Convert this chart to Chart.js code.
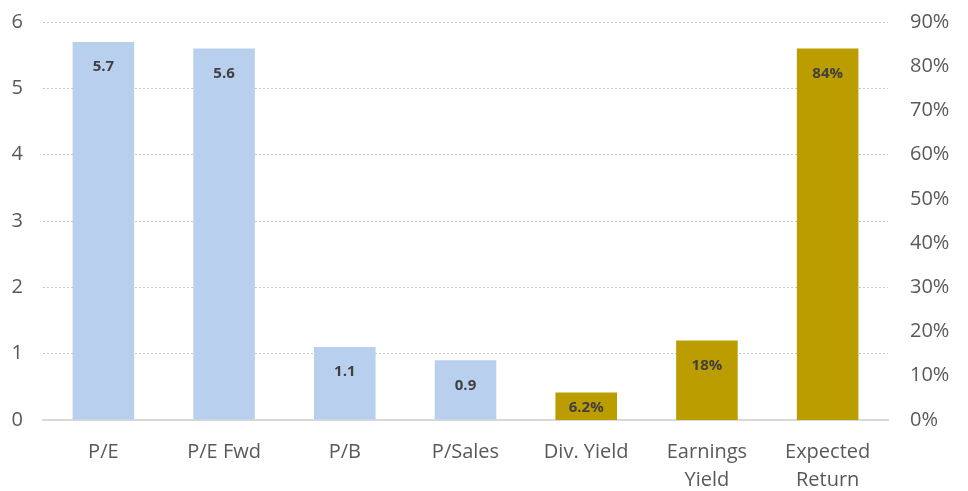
<!DOCTYPE html>
<html>
<head>
<meta charset="utf-8">
<script src="https://cdn.jsdelivr.net/npm/chart.js@4/dist/chart.umd.min.js"></script>
<style>
  html, body { margin: 0; padding: 0; background: #fff; }
  #wrap { width: 968px; height: 491px; }
</style>
</head>
<body>
<div id="wrap"><canvas id="valuation-chart"></canvas></div>
<script>
// categories and values
const categories = ['P/E', 'P/E Fwd', 'P/B', 'P/Sales', 'Div. Yield', ['Earnings', 'Yield'], ['Expected', 'Return']];
const ratioValues = [5.7, 5.6, 1.1, 0.9, null, null, null];        // left axis
const yieldValues = [null, null, null, null, 0.062, 0.18, 0.84];   // right axis (fraction)
const leftTicks = [0, 1, 2, 3, 4, 5, 6];
const rightTicks = [0, 0.1, 0.2, 0.3, 0.4, 0.5, 0.6, 0.7, 0.8, 0.9];

const FONT = "'Open Sans', 'Liberation Sans', sans-serif";
const TICK_COLOR = '#595959';

function pctLabel(v) {
  return String(+(v * 100).toFixed(1)) + '%';
}

const barLabels = {
  id: 'barLabels',
  afterDatasetsDraw(chart) {
    const ctx = chart.ctx;
    ctx.save();
    ctx.font = "bold 15px " + FONT;
    ctx.fillStyle = '#404040';
    ctx.textAlign = 'center';
    ctx.textBaseline = 'middle';
    chart.data.datasets.forEach((ds, di) => {
      const meta = chart.getDatasetMeta(di);
      meta.data.forEach((bar, i) => {
        const v = ds.data[i];
        if (v == null) return;
        const txt = ds.yAxisID === 'y1' ? pctLabel(v) : v.toFixed(1);
        let y = bar.y + 25;
        if (y > bar.base - 10) y = (bar.y + bar.base) / 2 + 1;
        ctx.fillText(txt, bar.x, y);
      });
    });
    ctx.restore();
  }
};

// keep the plot area where the reference has it
function fitVertical(width) {
  return scale => {
    scale.width = width;
    scale.paddingTop = 0;
    scale.paddingBottom = 0;
  };
}

new Chart(document.getElementById('valuation-chart'), {
  type: 'bar',
  data: {
    labels: categories,
    datasets: [
      {
        label: 'Ratio',
        data: ratioValues,
        yAxisID: 'y',
        backgroundColor: '#b8cfed',
        barPercentage: 0.51,
        categoryPercentage: 1,
        grouped: false,
      },
      {
        label: 'Yield',
        data: yieldValues,
        yAxisID: 'y1',
        backgroundColor: '#bc9d00',
        barPercentage: 0.51,
        categoryPercentage: 1,
        grouped: false,
      },
    ],
  },
  options: {
    responsive: true,
    maintainAspectRatio: false,
    animation: false,
    layout: { padding: { top: 22, left: 0, right: 0, bottom: 0 } },
    plugins: {
      legend: { display: false },
      tooltip: { enabled: false },
    },
    scales: {
      x: {
        grid: { display: false },
        border: { display: true, color: '#d9d9d9', width: 2 },
        ticks: {
          color: TICK_COLOR,
          font: { family: FONT, size: 20, lineHeight: 1.4 },
          maxRotation: 0,
          padding: 10,
        },
        afterFit(scale) {
          scale.height = 71;
          scale.paddingLeft = 0;
          scale.paddingRight = 0;
        },
      },
      y: {
        position: 'left',
        min: 0,
        max: 6,
        afterBuildTicks(scale) { scale.ticks = leftTicks.map(v => ({ value: v })); },
        ticks: {
          color: TICK_COLOR,
          font: { family: FONT, size: 20 },
          padding: 20,
        },
        grid: {
          color: '#c8c8c8',
          lineWidth: 1,
          drawTicks: false,
        },
        border: { display: false, dash: [2, 2] },
        afterFit: fitVertical(43),
      },
      y1: {
        position: 'right',
        min: 0,
        max: 0.9,
        afterBuildTicks(scale) { scale.ticks = rightTicks.map(v => ({ value: v })); },
        ticks: {
          color: TICK_COLOR,
          font: { family: FONT, size: 20 },
          padding: 22,
          callback: v => Math.round(v * 100) + '%',
        },
        grid: { display: false, drawTicks: false },
        border: { display: false },
        afterFit: fitVertical(80),
      },
    },
  },
  plugins: [barLabels],
});
</script>
</body>
</html>
